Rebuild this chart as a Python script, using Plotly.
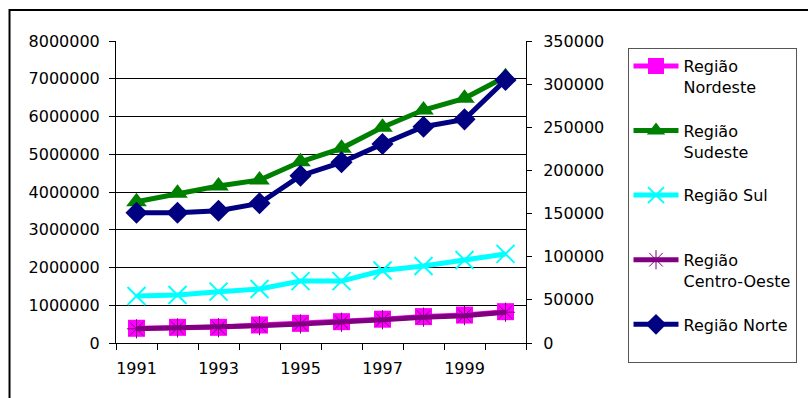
import plotly.graph_objects as go

years = [1991, 1992, 1993, 1994, 1995, 1996, 1997, 1998, 1999, 2000]
year_labels = ["1991", "1993", "1995", "1997", "1999"]
year_label_vals = [1991, 1993, 1995, 1997, 1999]

nordeste = [390000, 415000, 415000, 477000, 520000, 565000, 630000, 700000, 740000, 830000]
sudeste = [3743000, 3965000, 4159000, 4318000, 4800000, 5157000, 5714000, 6172000, 6482000, 7054000]
sul = [1245000, 1270000, 1360000, 1430000, 1640000, 1640000, 1920000, 2040000, 2200000, 2360000]
centro_oeste = [375000, 400000, 405000, 460000, 505000, 550000, 615000, 685000, 725000, 815000]
norte = [151000, 151000, 153300, 161900, 193900, 209400, 230700, 250700, 259200, 304800]  # right axis

left_ticks = [0, 1000000, 2000000, 3000000, 4000000, 5000000, 6000000, 7000000, 8000000]
right_ticks = [0, 50000, 100000, 150000, 200000, 250000, 300000, 350000]

FONT = "DejaVu Sans"
W, H = 808, 398
L, R, T, B = 116, 528, 41, 343

fig = go.Figure()

def add(name, y, color, symbol, msize, axis="y", mline=0, mcolor=None):
    fig.add_trace(go.Scatter(
        x=years, y=y, name=name, yaxis=axis, mode="lines+markers",
        line=dict(color=color, width=5),
        marker=dict(symbol=symbol, size=msize, color=mcolor or color,
                    line=dict(width=mline, color=color)),
        legendgroup=name,
    ))

add("Região<br>Nordeste", nordeste, "#FF00FF", "square", 17)
add("Região<br>Sudeste", sudeste, "#008000", "triangle-up", 18)
add("Região Sul<br>\u00a0", sul, "#00FFFF", "x-thin-open", 18, mline=2)
add("Região<br>Centro-Oeste", centro_oeste, "#800080", "asterisk-open", 16, mline=1)
add("Região Norte<br>\u00a0", norte, "#000080", "diamond", 17, axis="y2")

fig.update_layout(
    width=W, height=H,
    margin=dict(l=L, r=W - R, t=T, b=H - B, pad=0),
    paper_bgcolor="white", plot_bgcolor="white",
    font=dict(family=FONT, size=16, color="black"),
    showlegend=True,
    legend=dict(
        x=(630 - L) / (R - L), y=(B - 48) / (B - T), xanchor="left", yanchor="top",
        bgcolor="white", bordercolor="#555555", borderwidth=1,
        tracegroupgap=20, itemwidth=45, valign="top", maxheight=400,
        entrywidth=190, entrywidthmode="pixels",
        font=dict(family=FONT, size=16, color="black"),
    ),
    xaxis=dict(
        range=[1990.5, 2000.5], tickmode="array", tickvals=year_label_vals, ticktext=year_labels,
        ticks="", showgrid=False, zeroline=False,
        showline=True, linecolor="black", linewidth=1,
        minor=dict(tickmode="linear", tick0=1990.5, dtick=1, ticks="outside", ticklen=6,
                   tickcolor="black", showgrid=False),
        ticklabelstandoff=11,
    ),
    yaxis=dict(
        range=[0, 8000000], tickmode="array", tickvals=left_ticks,
        ticktext=[str(v) for v in left_ticks],
        ticks="outside", ticklen=6, tickcolor="black",
        showgrid=True, gridcolor="black", gridwidth=1, zeroline=False,
        showline=True, linecolor="black", linewidth=1, ticklabelstandoff=6,
    ),
    yaxis2=dict(
        range=[0, 350000], overlaying="y", side="right", tickmode="array",
        tickvals=right_ticks, ticktext=[str(v) for v in right_ticks],
        ticks="outside", ticklen=5, tickcolor="black",
        showgrid=False, zeroline=False,
        showline=True, linecolor="black", linewidth=1, ticklabelstandoff=8,
    ),
)

# outer chart-area border (top and left visible; rest clipped)
fig.add_shape(type="rect", xref="paper", yref="paper",
              x0=(9 - L) / (R - L), x1=(W + 20 - L) / (R - L),
              y0=(B - (H + 20)) / (B - T), y1=(B - 10) / (B - T),
              line=dict(color="black", width=2), fillcolor="rgba(0,0,0,0)", layer="below")

fig.write_html("out.html")
